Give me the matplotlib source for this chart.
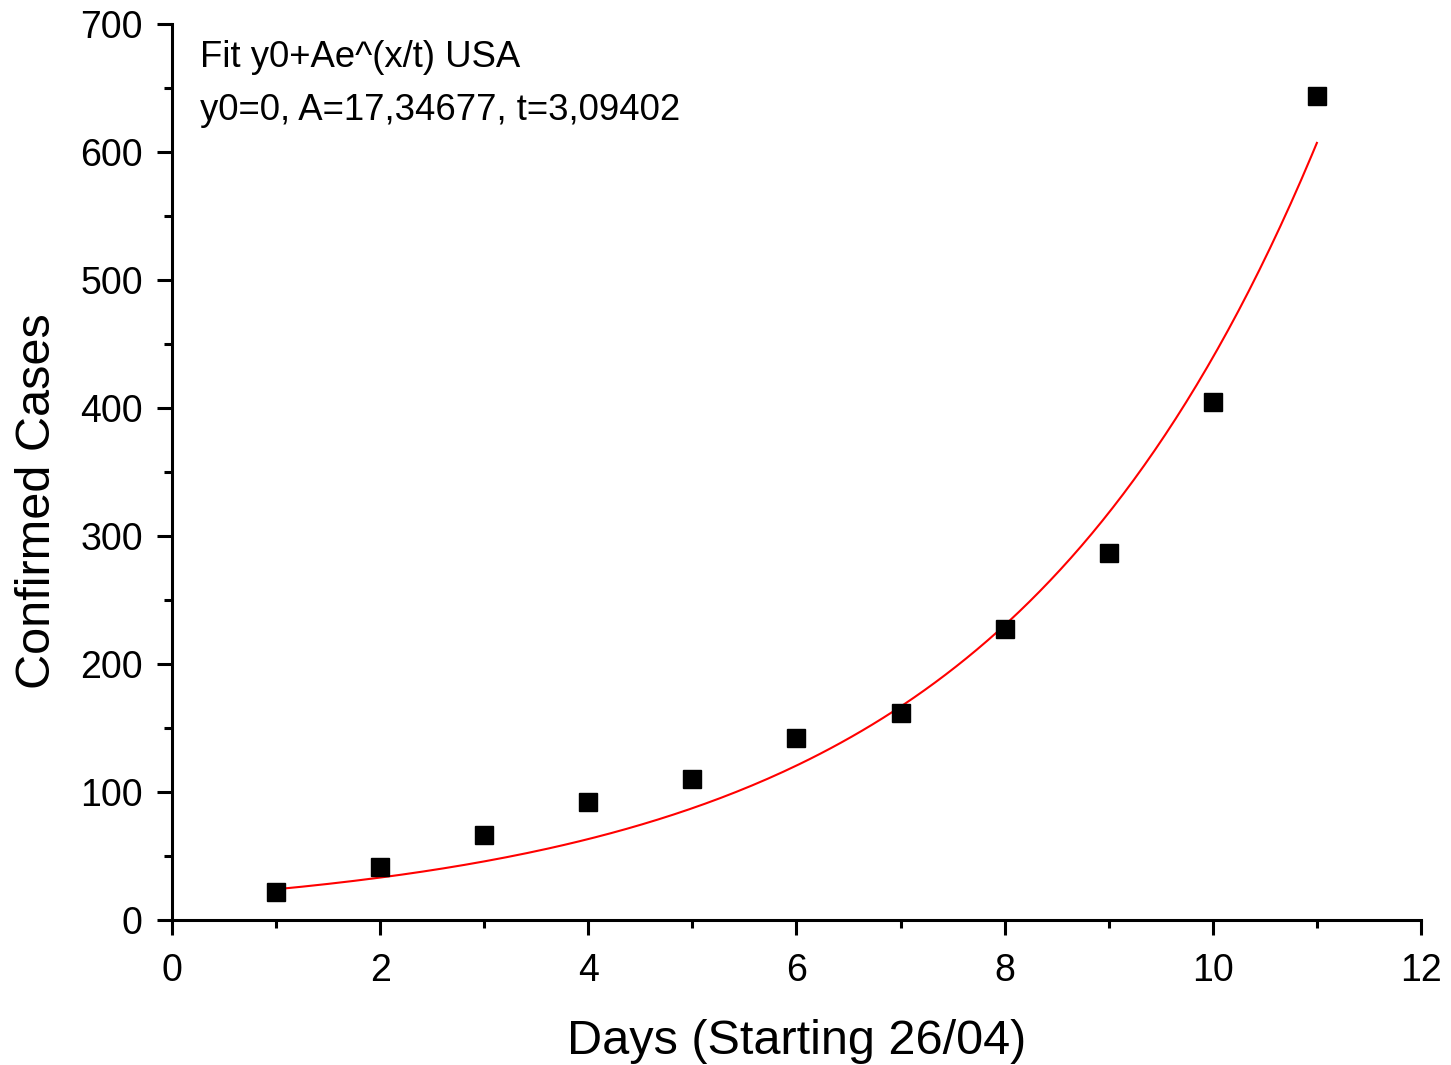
import numpy as np
import matplotlib
matplotlib.use("Agg")
import matplotlib.pyplot as plt
from matplotlib.ticker import MultipleLocator

# data
days = [1, 2, 3, 4, 5, 6, 7, 8, 9, 10, 11]
cases = [22, 41, 66, 92, 110, 142, 162, 227, 287, 405, 644]

# fit parameters as printed on the chart
y0 = 0.0
A = 17.34677
t = 3.09402

plt.rcParams['font.family'] = ['Liberation Sans', 'DejaVu Sans']

fig = plt.figure(figsize=(14.51, 10.65), dpi=100)
ax = fig.add_axes([0.1185, 0.1362, 0.8608, 0.8413])

xfit = np.linspace(days[0], days[-1], 200)
yfit = y0 + A * np.exp(xfit / t)
ax.plot(xfit, yfit, color='red', lw=1.5, zorder=2)
ax.plot(days, cases, linestyle='none', marker='s', ms=12.5,
        color='black', mec='black', zorder=3)

ax.set_xlim(0, 12)
ax.set_ylim(0, 700)
ax.xaxis.set_major_locator(MultipleLocator(2))
ax.xaxis.set_minor_locator(MultipleLocator(1))
ax.yaxis.set_major_locator(MultipleLocator(100))
ax.yaxis.set_minor_locator(MultipleLocator(50))

for side in ['top', 'right']:
    ax.spines[side].set_visible(False)
for side in ['left', 'bottom']:
    ax.spines[side].set_linewidth(2.2)

ax.tick_params(which='major', direction='out', length=11, width=2.2,
               labelsize=27)
ax.tick_params(axis='x', which='major', pad=13)
ax.tick_params(axis='y', which='major', pad=10)
ax.tick_params(which='minor', direction='out', length=6, width=2.2)

ax.set_xlabel('Days (Starting 26/04)', fontsize=35, va='top')
ax.xaxis.set_label_coords(0.5, -0.11)
ax.set_ylabel('Confirmed Cases', fontsize=35)
ax.yaxis.set_label_coords(-0.09, 0.4676)

ax.text(0.0224, 0.952, 'Fit y0+Ae^(x/t) USA', transform=ax.transAxes,
        fontsize=26.3, va='baseline', ha='left')
ax.text(0.0224, 0.893, 'y0=0, A=17,34677, t=3,09402', transform=ax.transAxes,
        fontsize=26.3, va='baseline', ha='left')

fig.savefig('out.png', dpi=100)
